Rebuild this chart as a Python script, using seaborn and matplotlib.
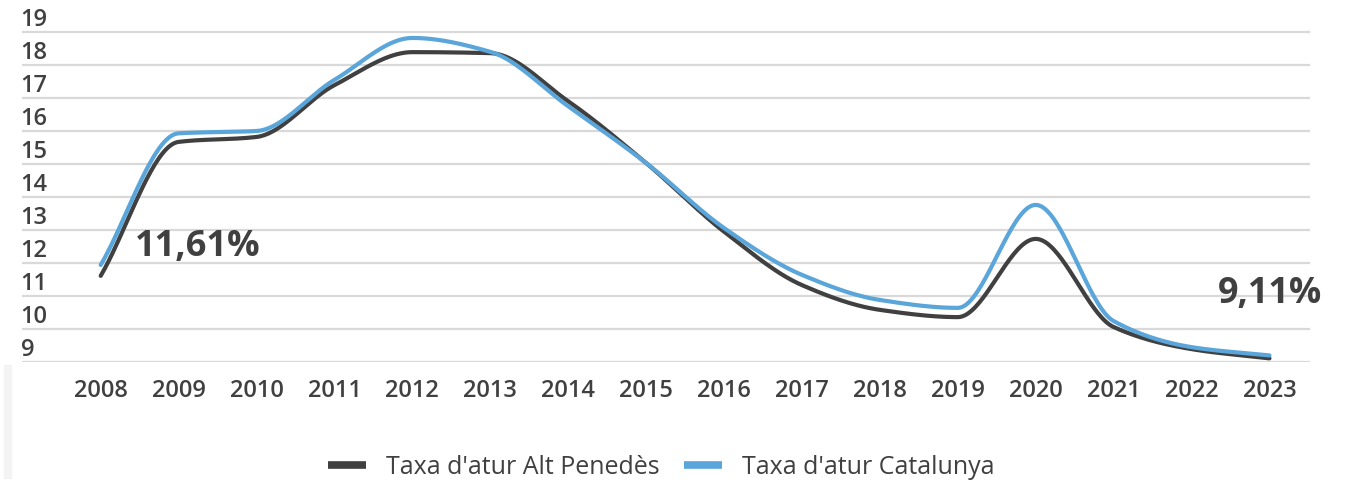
import matplotlib.pyplot as plt
from matplotlib.patches import Rectangle
from matplotlib.lines import Line2D
import seaborn as sns
import pandas as pd
import numpy as np

# Data
years = list(range(2008, 2024))
alt_penedes = [11.61, 15.67, 15.82, 17.39, 18.39, 18.36, 16.90, 15.03,
               12.95, 11.33, 10.58, 10.36, 12.73, 10.06, 9.39, 9.11]
catalunya = [11.94, 15.93, 16.00, 17.55, 18.82, 18.40, 16.75, 15.03,
             13.06, 11.64, 10.88, 10.64, 13.76, 10.24, 9.45, 9.20]
series_names = ["Taxa d'atur Alt Penedès", "Taxa d'atur Catalunya"]
colors = ['#404040', '#5aa5da']
ytick_values = list(range(9, 20))


def smooth(x, y, n=40):
    # smoothed line without overshoot (monotone cubic, Fritsch-Carlson)
    x = np.asarray(x, float)
    y = np.asarray(y, float)
    h = np.diff(x)
    d = np.diff(y) / h
    m = np.zeros_like(y)
    for i in range(1, len(y) - 1):
        if d[i - 1] * d[i] > 0:
            w1 = 2 * h[i] + h[i - 1]
            w2 = h[i] + 2 * h[i - 1]
            m[i] = (w1 + w2) / (w1 / d[i - 1] + w2 / d[i])
    m[0] = d[0]
    m[-1] = d[-1]
    xs, ys = [], []
    t = np.linspace(0, 1, n)
    for i in range(len(y) - 1):
        h00 = 2 * t ** 3 - 3 * t ** 2 + 1
        h10 = t ** 3 - 2 * t ** 2 + t
        h01 = -2 * t ** 3 + 3 * t ** 2
        h11 = t ** 3 - t ** 2
        xs.extend(x[i] + t * h[i])
        ys.extend(h00 * y[i] + h10 * h[i] * m[i] + h01 * y[i + 1] + h11 * h[i] * m[i + 1])
    return xs, ys


sns.set_style('white')
plt.rcParams['font.family'] = ['Open Sans', 'DejaVu Sans']

fig = plt.figure(figsize=(13.47, 4.83), dpi=100)
ax = fig.add_axes([22 / 1347, 1 - 362 / 483, (1310 - 22) / 1347, 362 / 483])

frames = []
for name, vals in zip(series_names, [alt_penedes, catalunya]):
    sx, sy = smooth(years, vals)
    frames.append(pd.DataFrame({'year': sx, 'value': sy, 'serie': name}))
df = pd.concat(frames, ignore_index=True)

sns.lineplot(data=df, x='year', y='value', hue='serie', palette=colors,
             linewidth=3.0, sort=False, estimator=None, legend=False, ax=ax)

# Axes limits and grid
ax.set_xlim(2008 - 1.01, 2023 + 0.52)
ax.set_ylim(9, 19.97)
ax.set_yticks(ytick_values, minor=True)
ax.set_yticks([v + 0.45 for v in ytick_values])
ax.set_yticklabels([str(v) for v in ytick_values])
ax.grid(axis='y', which='minor', color='#d9d9d9', linewidth=1.6)
ax.grid(axis='y', which='major', visible=False)
ax.tick_params(axis='y', which='both', length=0)
ax.tick_params(axis='y', which='major', pad=1, labelsize=17, labelcolor='#404040')
for lab in ax.get_yticklabels():
    lab.set_horizontalalignment('left')
    lab.set_fontweight('semibold')

ax.set_xticks(years)
ax.set_xticklabels([str(y) for y in years])
ax.tick_params(axis='x', length=0, pad=12, labelsize=17, labelcolor='#404040')
for lab in ax.get_xticklabels():
    lab.set_fontweight('semibold')
ax.set(xlabel=None, ylabel=None)
sns.despine(ax=ax, left=True, bottom=True, right=True, top=True)

# Annotations
ax.text(2008.44, 12.5, '11,61%', fontsize=26, fontweight='bold', color='#404040',
        va='center', ha='left')
ax.text(2023.68, 11.07, '9,11%', fontsize=25.8, fontweight='bold', color='#404040',
        va='center', ha='right', clip_on=False)

# Legend
handles = [Line2D([0], [0], color=c, linewidth=5.5, solid_capstyle='butt') for c in colors]
fig.legend(handles, series_names, loc='center', bbox_to_anchor=(0.491, 1 - 467 / 483),
           ncol=2, frameon=False, handlelength=1.5, columnspacing=1.0,
           handletextpad=0.8, labelcolor='#404040',
           prop={'family': ['Liberation Sans Narrow', 'Open Sans'], 'size': 18})

# Light strip on the left edge
fig.patches.append(Rectangle((4 / 1347, 0.01), 7 / 1347, 0.235,
                             transform=fig.transFigure, color='#f3f3f3', zorder=0))

plt.savefig('out.png', dpi=100)
